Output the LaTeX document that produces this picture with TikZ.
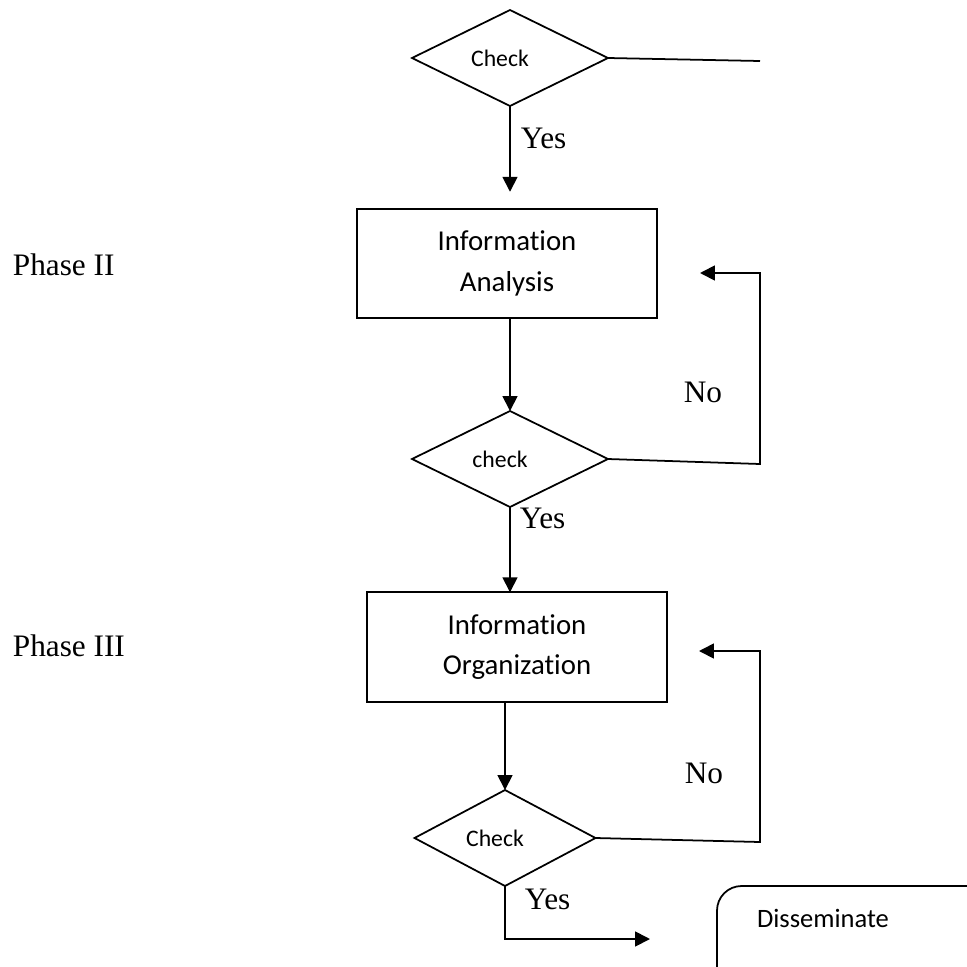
\documentclass[tikz,border=0pt]{standalone}
\usepackage{fontspec}
\setmainfont{Liberation Serif}
\newfontfamily\calib[Ligatures=NoCommon]{Carlito}
\usetikzlibrary{shapes.geometric,arrows.meta}
\begin{document}
\begin{tikzpicture}[x=0.02cm, y=-0.02cm, line width=1pt,
        chk/.style={draw, diamond, aspect=2, inner sep=0pt, outer sep=0pt,
            minimum width=3.92cm, minimum height=1.92cm,
            execute at end node={\hspace{0.4cm}},
            font=\calib\fontsize{13.5}{16}\selectfont},
        infobox/.style={draw, rectangle, outer sep=0pt, align=center,
            minimum width=6cm, minimum height=2.19cm,
            font=\calib\fontsize{16.4}{23.2}\selectfont},
        lbl/.style={anchor=base west, inner sep=0pt,
            font=\fontsize{17.8}{20}\selectfont},
        arr/.style={-{Triangle[length=8.5pt, width=8.5pt]}}]
    \useasboundingbox (0,0) rectangle (967,967);
    \clip (0,0) rectangle (967,967);
    % phase labels
    \node[lbl] (ph2) at (12,275) {Phase II};
    \node[lbl] (ph3) at (12,656) {Phase III};
    % flow
    \node[chk] (chk1) at (510,58) {Check};
    \node[infobox] (ana) at (507,263.5) {Information\\Analysis};
    \node[chk] (chk2) at (510,459) {check};
    \node[infobox] (org) at (517,647) {Information\\Organization};
    \node[chk, minimum width=3.62cm] (chk3) at (505,838) {Check};
    \draw[rounded corners=14] (717,980) -- (717,886) -- (990,886);
    \node[inner sep=0pt, anchor=base, font=\calib\fontsize{15.1}{18}\selectfont] (dis) at (823,927) {Disseminate};
    % free ends
    \coordinate (e1) at (760,61);
    \coordinate (r2) at (760,464);
    \coordinate (t2) at (760,273);
    \coordinate (h2) at (700,273);
    \coordinate (r3) at (760,842);
    \coordinate (t3) at (760,651);
    \coordinate (h3) at (699,651);
    \coordinate (y3) at (505,939);
    \coordinate (h4) at (650,939);
    % connectors
    \draw (chk1.east) -- (e1);
    \draw[arr, shorten >=0.34cm] (chk1.south) -- (chk1.south |- ana.north);
    \draw[arr] (chk1.south |- ana.south) -- (chk2.north);
    \draw[arr] (chk2.south) -- (chk2.south |- org.north);
    \draw[arr] (chk3.north |- org.south) -- (chk3.north);
    \draw[arr] (chk2.east) -- (r2) -- (t2) -- (h2);
    \draw[arr] (chk3.east) -- (r3) -- (t3) -- (h3);
    \draw[arr] (chk3.south) -- (y3) -- (h4);
    % labels
    \node[lbl] (yes1) at (520,148) {Yes};
    \node[lbl] (yes2) at (519,528) {Yes};
    \node[lbl] (yes3) at (524,909) {Yes};
    \node[lbl] (no1) at (683,402) {No};
    \node[lbl] (no2) at (684,783) {No};
\end{tikzpicture}
\end{document}
